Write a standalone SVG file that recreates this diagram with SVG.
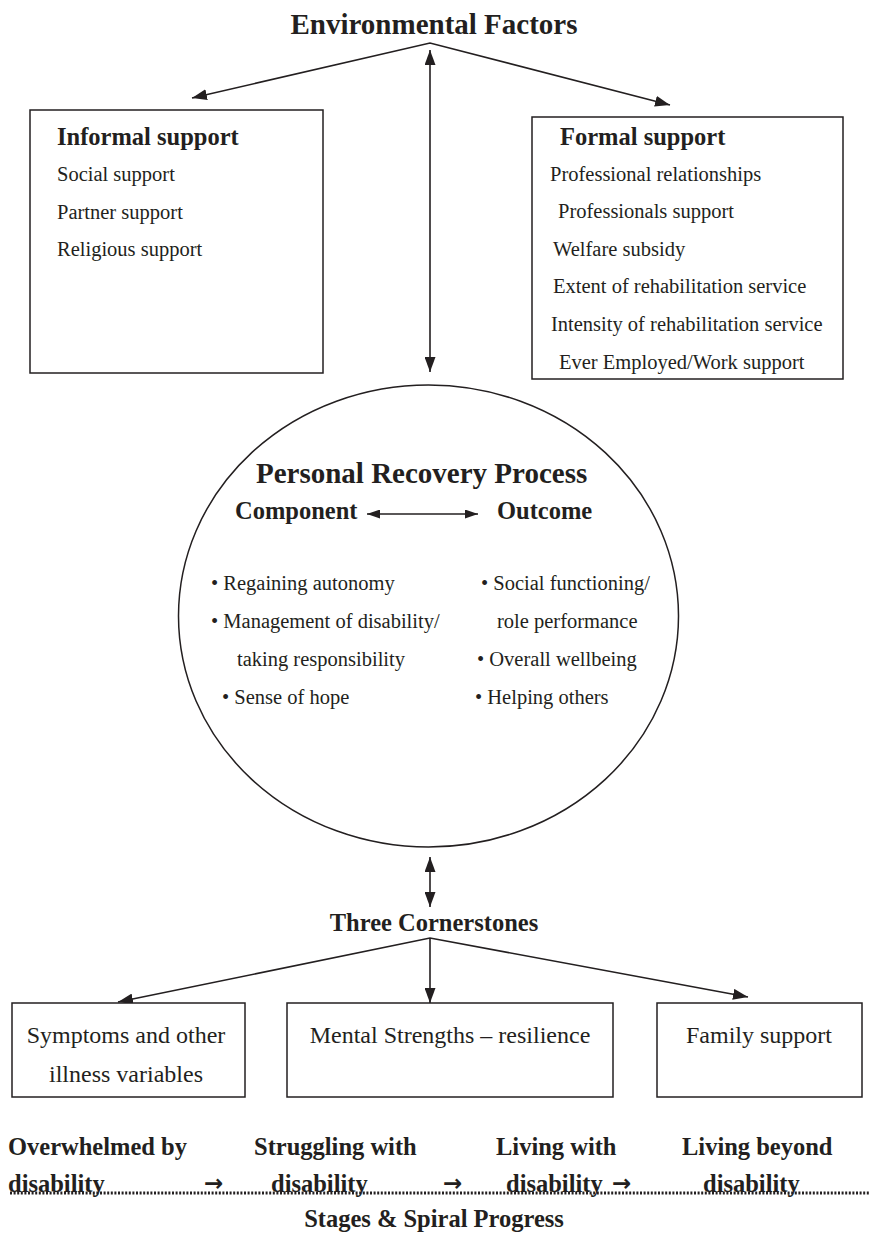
<svg xmlns="http://www.w3.org/2000/svg" width="870" height="1234" viewBox="0 0 870 1234">
<style>
text{font-family:"Liberation Serif","Times New Roman",serif;fill:#231f20}
.t{font-size:29px;font-weight:bold}
.h{font-size:24.5px;font-weight:bold}
.n{font-size:20.5px}
.c{font-size:24px}
.ar{font-family:"DejaVu Sans",sans-serif;font-size:23px;font-weight:bold}
.box{fill:#fff;stroke:#231f20;stroke-width:1.5}
.ln{fill:none;stroke:#231f20;stroke-width:1.6}
.mid{text-anchor:middle}
</style>
<defs>
<marker id="ah" markerUnits="userSpaceOnUse" markerWidth="15" markerHeight="11" refX="15" refY="5.5" orient="auto-start-reverse"><path d="M0,0 L15,5.5 L0,11 z" fill="#231f20"/></marker>
<marker id="as" markerUnits="userSpaceOnUse" markerWidth="13" markerHeight="9" refX="13" refY="4.5" orient="auto-start-reverse"><path d="M0,0 L13,4.5 L0,9 z" fill="#231f20"/></marker>
</defs>
<g id="connectors">
<polyline class="ln" points="192,98 430,43 670,105" marker-start="url(#ah)" marker-end="url(#ah)"/>
<line class="ln" x1="430" y1="50" x2="430" y2="372" marker-start="url(#ah)" marker-end="url(#ah)"/>
<line class="ln" x1="430" y1="857" x2="430" y2="907" marker-start="url(#ah)" marker-end="url(#ah)"/>
<polyline class="ln" points="118,1002 430,938 748,997" marker-start="url(#ah)" marker-end="url(#ah)"/>
<line class="ln" x1="430" y1="938" x2="430" y2="1003" marker-end="url(#ah)"/>
</g>
<g id="environmental-factors">
<text class="t mid" x="434" y="34">Environmental Factors</text>
</g>
<g id="informal-support">
<rect class="box" x="30" y="110" width="293" height="263"/>
<text class="h" x="57" y="145">Informal support</text>
<text class="n" x="57" y="181">Social support</text>
<text class="n" x="57" y="219">Partner support</text>
<text class="n" x="57" y="256">Religious support</text>
</g>
<g id="formal-support">
<rect class="box" x="532" y="117" width="311" height="262"/>
<text class="h" x="560" y="145">Formal support</text>
<text class="n" x="550" y="181">Professional relationships</text>
<text class="n" x="558" y="218">Professionals support</text>
<text class="n" x="553" y="256">Welfare subsidy</text>
<text class="n" x="553" y="293">Extent of rehabilitation service</text>
<text class="n" x="551" y="331">Intensity of rehabilitation service</text>
<text class="n" x="559" y="369">Ever Employed/Work support</text>
</g>
<g id="personal-recovery-process">
<ellipse class="box" cx="428.5" cy="616" rx="250" ry="231"/>
<text class="t" x="256" y="483">Personal Recovery Process</text>
<text class="h" x="235" y="519">Component</text>
<text class="h" x="497" y="519">Outcome</text>
<line class="ln" x1="367" y1="514" x2="478" y2="514" marker-start="url(#as)" marker-end="url(#as)"/>
<text class="n" x="211" y="590">• Regaining autonomy</text>
<text class="n" x="211" y="628">• Management of disability/</text>
<text class="n" x="237" y="666">taking responsibility</text>
<text class="n" x="222" y="704">• Sense of hope</text>
<text class="n" x="481" y="590">• Social functioning/</text>
<text class="n" x="497" y="628">role performance</text>
<text class="n" x="477" y="666">• Overall wellbeing</text>
<text class="n" x="475" y="704">• Helping others</text>
</g>
<g id="three-cornerstones">
<text class="h mid" x="434" y="931">Three Cornerstones</text>
</g>
<g id="symptoms">
<rect class="box" x="12" y="1003" width="233" height="94"/>
<text class="c mid" x="126" y="1043">Symptoms and other</text>
<text class="c mid" x="126" y="1082">illness variables</text>
</g>
<g id="mental-strengths">
<rect class="box" x="287" y="1003" width="326" height="94"/>
<text class="c mid" x="450" y="1043">Mental Strengths – resilience</text>
</g>
<g id="family-support">
<rect class="box" x="657" y="1003" width="205" height="94"/>
<text class="c mid" x="759" y="1043">Family support</text>
</g>
<g id="stages">
<line x1="10" y1="1193" x2="870" y2="1193" stroke="#231f20" stroke-width="3" stroke-dasharray="2 1.6"/>
<text class="h" x="8" y="1155">Overwhelmed by</text>
<text class="h" x="254" y="1155">Struggling with</text>
<text class="h" x="496" y="1155">Living with</text>
<text class="h" x="682" y="1155">Living beyond</text>
<text class="h" x="8" y="1192">disability</text>
<text class="h" x="271" y="1192">disability</text>
<text class="h" x="506" y="1192">disability</text>
<text class="h" x="703" y="1192">disability</text>
<text class="ar" x="204" y="1191">→</text>
<text class="ar" x="443" y="1191">→</text>
<text class="ar" x="612" y="1191">→</text>
<text class="h mid" x="434" y="1227">Stages &amp; Spiral Progress</text>
</g>
</svg>
